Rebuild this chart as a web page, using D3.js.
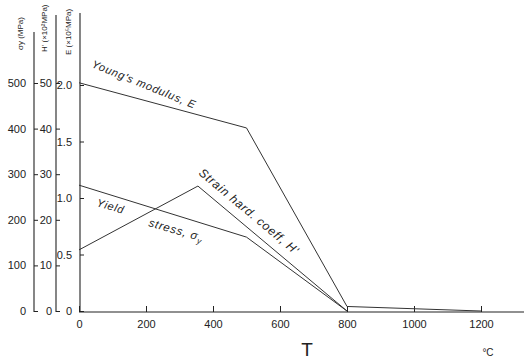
<!DOCTYPE html>
<html><head><meta charset="utf-8">
<script src="https://cdn.jsdelivr.net/npm/d3@7"></script>
<style>
body{margin:0;background:#fff}
svg{display:block}
text{font-family:"Liberation Sans",Arial,sans-serif;fill:#222}
</style>
</head><body>
<svg id="c" width="529" height="359"></svg>
<script>
// ---- data ----
const xTicks = [0, 200, 400, 600, 800, 1000, 1200];
const sigmaTicks = [0, 100, 200, 300, 400, 500];
const hTicks = [0, 10, 20, 30, 40, 50];
const eTicks = [0, 0.5, 1.0, 1.5, 2.0];
const eTickLabels = ["0", "0.5", "1.0", "1.5", "2.0"];

const eTemp = [0, 500, 800, 1200];
const eValues = [2.02, 1.62, 0.04, 0.0];        // Young's modulus, E
const sTemp = [0, 500, 800];
const sValues = [276, 162, 0];                  // Yield stress, sigma_y
const hTemp = [0, 355, 800];
const hValues = [13.4, 27.4, 0];                // Strain hard. coeff, H'

const axisTitles = ["\u03c3y (MPa)", "H' (\u00d710\u00b2MPa)", "E (\u00d710\u2075MPa)"];

// ---- scales ----
const svg = d3.select("#c");
const x = d3.scaleLinear().domain([0, 1200]).range([79, 481]);
const ySigma = d3.scaleLinear().domain([0, 500]).range([311, 83]);
const yH = d3.scaleLinear().domain([0, 50]).range([311, 83]);
const yE = d3.scaleLinear().domain([0, 2.0]).range([311, 85]);

const ink = "#222";

// ---- x axis ----
const gx = svg.append("g").attr("transform", "translate(0,312)")
  .call(d3.axisBottom(x).tickValues(xTicks).tickSize(-6).tickPadding(8).tickFormat(d3.format("d")));
gx.select(".domain").remove();
gx.selectAll(".tick line").attr("stroke", ink);
gx.selectAll(".tick text").attr("font-size", 11).attr("fill", ink);
svg.append("line").attr("x1", x(0)).attr("x2", 524).attr("y1", 312).attr("y2", 312)
  .attr("stroke", ink).attr("stroke-width", 1.2);

// ---- y axes ----
function yAxis(scale, xpos, ticks, pad, top, fmt) {
  const g = svg.append("g").attr("transform", `translate(${xpos},0)`)
    .call(d3.axisLeft(scale).tickValues(ticks).tickSize(-4).tickSizeOuter(0).tickPadding(pad).tickFormat(fmt));
  g.select(".domain").remove();
  g.selectAll(".tick line").attr("stroke", ink);
  g.selectAll(".tick text").attr("font-size", 11).attr("fill", ink);
  svg.append("line").attr("x1", xpos).attr("x2", xpos).attr("y1", top).attr("y2", 312)
    .attr("stroke", ink).attr("stroke-width", 1.1);
  return g;
}
yAxis(ySigma, 34, sigmaTicks, 8, 32, d3.format("d"));
yAxis(yH, 56, hTicks, 4, 15, d3.format("d"));
yAxis(yE, 80, eTicks, 8, 13, (d, i) => eTickLabels[i]);

// axis titles (rotated)
[[23, 50], [47, 52], [71, 55]].forEach((p, i) => {
  svg.append("text").attr("transform", `translate(${p[0]},${p[1]}) rotate(-90)`)
    .attr("font-size", 8).attr("fill", "#555").text(axisTitles[i]);
});

// ---- lines ----
function series(T, V, yScale) {
  const pts = T.map((t, i) => [x(t), yScale(V[i])]);
  svg.append("path").attr("d", d3.line()(pts)).attr("fill", "none")
    .attr("stroke", "#333").attr("stroke-width", 1);
}
series(eTemp, eValues, yE);
series(sTemp, sValues, ySigma);
series(hTemp, hValues, yH);

// ---- annotations ----
const ann = (txt, px, py, rot, fs) => svg.append("text")
  .attr("transform", `translate(${px},${py}) rotate(${rot})`)
  .attr("font-size", fs).attr("font-style", "italic").attr("letter-spacing", 0.8)
  .attr("font-family", "DejaVu Sans").attr("fill", "#333").text(txt);

ann("Young's modulus, E", 91, 67, 22, 11);
ann("Yield", 96, 206, 16, 11);
const st = ann("stress, ", 148, 226, 16, 11.5);
st.append("tspan").text("\u03c3");
st.append("tspan").attr("font-size", 8).attr("dy", 3).text("y");
ann("Strain hard. coeff, H'", 198, 174, 40, 12);

// unit labels
svg.append("text").attr("x", 307).attr("y", 356).attr("font-size", 19)
  .attr("text-anchor", "middle").text("T");
svg.append("text").attr("x", 488).attr("y", 356).attr("font-size", 10)
  .attr("text-anchor", "middle").text("\u00b0C");
</script>
</body></html>
